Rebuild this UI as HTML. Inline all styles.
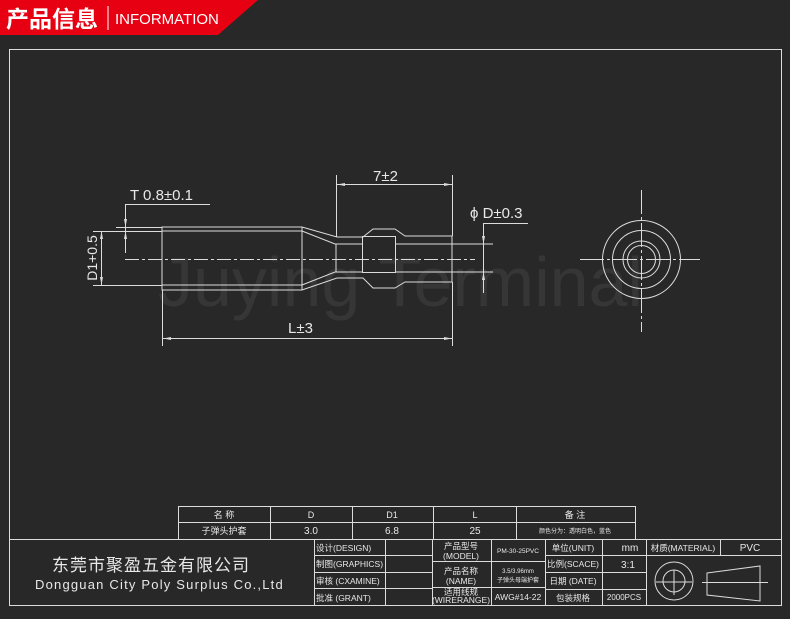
<!DOCTYPE html>
<html><head><meta charset="utf-8"><style>
html,body{margin:0;padding:0;background:#282828;}
svg{display:block}
text{font-family:"Liberation Sans","Noto Sans CJK SC",sans-serif;fill:#e8e8e8}
</style></head><body>
<svg width="790" height="619" viewBox="0 0 790 619" xmlns="http://www.w3.org/2000/svg">
<rect width="790" height="619" fill="#282828"/>
<polygon points="0,0 258,0 218,35 0,35" fill="#e60012"/>
<text x="6" y="27" font-size="23" font-weight="bold" fill="#fff" style="fill:#fff" font-family="Noto Sans CJK SC,sans-serif">产品信息</text>
<line x1="108" y1="6" x2="108" y2="30" stroke="#fff" stroke-width="1"/>
<text x="115" y="24" font-size="15" style="fill:#fff">INFORMATION</text>

<text x="158" y="306" font-size="70" style="fill:#363636">Juying Terminal</text>

<g stroke="#dcdcdc" stroke-width="1" fill="none">
<rect x="9.5" y="49.5" width="772" height="556"/>
<line x1="9.5" y1="539.5" x2="781.5" y2="539.5"/>
<line x1="125" y1="259.5" x2="475" y2="259.5" stroke-dasharray="14,3,3,3"/>
<path d="M162,227 H302 L337,237 H363 L373,229 H395 L405,236 H452 V282 H405 L395,288 H373 L363,278 H337 L302,290 H162 Z"/>
<line x1="162" y1="231" x2="302" y2="231"/>
<line x1="162" y1="285" x2="302" y2="285"/>
<line x1="302" y1="227" x2="302" y2="290"/>
<path d="M302,231 L335,244 H362"/>
<path d="M302,285 L335,272 H362"/>
<line x1="336" y1="244" x2="336" y2="272"/>
<rect x="362.5" y="236.5" width="33" height="36"/>
<line x1="395" y1="244" x2="493" y2="244"/>
<line x1="395" y1="272" x2="493" y2="272"/>
<line x1="336.5" y1="175" x2="336.5" y2="237"/>
<line x1="452.5" y1="175" x2="452.5" y2="236"/>
<line x1="337" y1="184.5" x2="452" y2="184.5"/>
<line x1="162.5" y1="290" x2="162.5" y2="346"/>
<line x1="452.5" y1="282" x2="452.5" y2="346"/>
<line x1="163" y1="338.5" x2="452" y2="338.5"/>
<line x1="93" y1="231.5" x2="162" y2="231.5"/>
<line x1="93" y1="285.5" x2="162" y2="285.5"/>
<line x1="101.5" y1="231" x2="101.5" y2="285"/>
<line x1="116" y1="227.5" x2="162" y2="227.5"/>
<line x1="125.5" y1="204" x2="125.5" y2="253"/>
<line x1="125" y1="204.5" x2="210" y2="204.5"/>
<line x1="483.5" y1="223" x2="483.5" y2="293"/>
<line x1="483" y1="223.5" x2="528" y2="223.5"/>
<circle cx="641.5" cy="259.5" r="39"/>
<circle cx="641.5" cy="259.5" r="29"/>
<circle cx="641.5" cy="259.5" r="18.5"/>
<circle cx="641.5" cy="259.5" r="14"/>
<line x1="580" y1="259.5" x2="700" y2="259.5" stroke-dasharray="24,3,3,3"/>
<line x1="641.5" y1="190" x2="641.5" y2="332" stroke-dasharray="24,3,3,3"/>
</g>
<g fill="#dcdcdc">
<polygon points="337,184.5 345,183 345,186"/><polygon points="452,184.5 444,183 444,186"/>
<polygon points="163,338.5 171,337 171,340"/><polygon points="452,338.5 444,337 444,340"/>
<polygon points="101.5,231 100,239 103,239"/><polygon points="101.5,285 100,277 103,277"/>
<polygon points="125.5,227 124,219 127,219"/><polygon points="125.5,231 124,239 127,239"/>
<polygon points="483.5,244 482,236 485,236"/><polygon points="483.5,272 482,280 485,280"/>
</g>
<text x="373" y="181" font-size="15">7±2</text>
<text x="288" y="333" font-size="15">L±3</text>
<text x="130" y="200" font-size="15">T 0.8±0.1</text>
<text x="470" y="218" font-size="15">ϕ D±0.3</text>
<text transform="translate(97,258) rotate(-90)" font-size="14" text-anchor="middle">D1+0.5</text>

<g stroke="#dcdcdc" stroke-width="1" fill="none">
<rect x="178.5" y="506.5" width="457" height="33"/>
<line x1="178" y1="522.5" x2="635" y2="522.5"/>
<line x1="270.5" y1="506" x2="270.5" y2="539"/>
<line x1="352.5" y1="506" x2="352.5" y2="539"/>
<line x1="433.5" y1="506" x2="433.5" y2="539"/>
<line x1="516.5" y1="506" x2="516.5" y2="539"/>
<line x1="314.5" y1="539" x2="314.5" y2="605"/>
<line x1="385.5" y1="539" x2="385.5" y2="605"/>
<line x1="314" y1="555.5" x2="432" y2="555.5"/>
<line x1="314" y1="572.5" x2="432" y2="572.5"/>
<line x1="314" y1="588.5" x2="432" y2="588.5"/>
<line x1="432.5" y1="539" x2="432.5" y2="605"/>
<line x1="491.5" y1="539" x2="491.5" y2="605"/>
<line x1="545.5" y1="539" x2="545.5" y2="605"/>
<line x1="602.5" y1="539" x2="602.5" y2="605"/>
<line x1="646.5" y1="539" x2="646.5" y2="605"/>
<line x1="432" y1="561.5" x2="545" y2="561.5"/>
<line x1="432" y1="587.5" x2="545" y2="587.5"/>
<line x1="545" y1="555.5" x2="781" y2="555.5"/>
<line x1="545" y1="572.5" x2="646" y2="572.5"/>
<line x1="545" y1="589.5" x2="646" y2="589.5"/>
<line x1="720.5" y1="539" x2="720.5" y2="555"/>
<circle cx="674" cy="581" r="19"/>
<circle cx="674" cy="581" r="11"/>
<line x1="656" y1="582" x2="692" y2="582"/>
<line x1="674" y1="570" x2="674" y2="595"/>
<polygon points="707,573 760,566 760,601 707,595"/>
<line x1="702" y1="582.5" x2="768" y2="582.5"/>
</g>
<g font-size="9" text-anchor="middle">
<text x="224" y="518">名 称</text><text x="311" y="518">D</text><text x="392" y="518">D1</text><text x="475" y="518">L</text><text x="575" y="518">备 注</text>
<text x="224" y="534">子弹头护套</text><text x="311" y="534" font-size="10">3.0</text><text x="392" y="534" font-size="10">6.8</text><text x="475" y="534" font-size="10">25</text><text x="575" y="533" font-size="6">颜色分为：透明白色，蓝色</text>
</g>
<text x="52" y="571" font-size="17" font-family="Noto Serif CJK SC,serif" letter-spacing="1">东莞市聚盈五金有限公司</text>
<text x="35" y="589" font-size="13" letter-spacing="1.2">Dongguan City Poly Surplus Co.,Ltd</text>
<g font-size="8.5">
<text x="316" y="551">设计(DESIGN)</text><text x="316" y="567">制图(GRAPHICS)</text><text x="316" y="584">审核 (CXAMINE)</text><text x="316" y="601">批准 (GRANT)</text>
</g>
<g font-size="8.5" text-anchor="middle">
<text x="461" y="549">产品型号</text><text x="461" y="559">(MODEL)</text>
<text x="461" y="574">产品名称</text><text x="461" y="584">(NAME)</text>
<text x="461" y="595">适用线规</text><text x="461" y="603">(WIRERANGE)</text>
<text x="518" y="553" font-size="6.5">PM-30-25PVC</text>
<text x="518" y="573" font-size="6">3.5/3.96mm</text><text x="518" y="582" font-size="6">子弹头母端护套</text>
<text x="518" y="600">AWG#14-22</text>
<text x="573" y="551">单位(UNIT)</text><text x="573" y="567">比例(SCACE)</text><text x="573" y="584">日期 (DATE)</text><text x="573" y="601">包装规格</text>
<text x="630" y="551" font-size="10">mm</text><text x="628" y="568" font-size="10">3:1</text><text x="624" y="600" font-size="8">2000PCS</text>
<text x="683" y="551">材质(MATERIAL)</text><text x="750" y="551" font-size="10">PVC</text>
</g>
</svg>
</body></html>
